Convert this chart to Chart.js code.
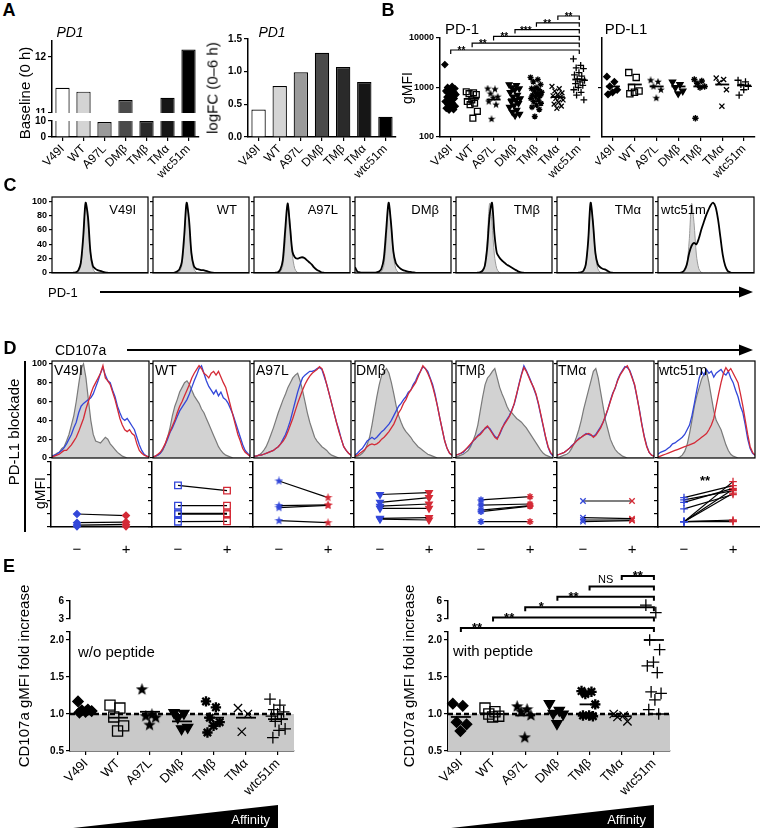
<!DOCTYPE html>
<html>
<head>
<meta charset="utf-8">
<script src="https://cdn.jsdelivr.net/npm/chart.js@4.4.0/dist/chart.umd.min.js"></script>
<style>
body { margin: 0; background: #fff; width: 763px; height: 837px; position: relative; overflow: hidden; font-family: "Liberation Sans", Arial, sans-serif; }
canvas { position: absolute; }
.t { position: absolute; white-space: nowrap; color: #000; line-height: 1; }
</style>
</head>
<body>
<svg width="763" height="837" style="position:absolute;left:0;top:0">
  <line x1="100" y1="292" x2="742" y2="292" stroke="#000" stroke-width="2"/>
  <polygon points="753,292 739,286.5 739,297.5" fill="#000"/>
  <line x1="127" y1="350" x2="742" y2="350" stroke="#000" stroke-width="2"/>
  <polygon points="753,350 739,344.5 739,355.5" fill="#000"/>
  <line x1="25" y1="361" x2="25" y2="532" stroke="#000" stroke-width="2"/>
</svg>
<script>
// ---- data ----
const groups = ['V49I', 'WT', 'A97L', 'DMβ', 'TMβ', 'TMα', 'wtc51m'];

// A: PD1 expression
const barColors = ['#ffffff', '#d4d4d4', '#9a9a9a', '#4a4a4a', '#2a2a2a', '#161616', '#000000'];
const baselinePD1 = [11.45, 11.38, 9.4, 11.23, 9.95, 11.27, 12.13];
const logFCPD1 = [0.42, 0.78, 0.99, 1.29, 1.07, 0.84, 0.31];
const baseUpperTicks = [11, 12];
const baseLowerTicks = [0, 10];
const logFCTicks = [0, 0.5, 1, 1.5];

// B: gMFI scatter
const pd1gMFI = [
  [2900, 1050, 1000, 950, 900, 850, 820, 780, 720, 680, 640, 600, 560, 520, 480, 450, 420, 400, 380, 360, 350],
  [820, 780, 750, 720, 560, 520, 480, 450, 330, 240],
  [950, 920, 750, 650, 620, 520, 450, 230],
  [1150, 1100, 1000, 950, 900, 800, 700, 650, 600, 560, 520, 480, 430, 400, 350, 320, 290, 270],
  [1600, 1450, 1300, 1150, 1000, 950, 900, 850, 800, 750, 700, 680, 650, 600, 560, 520, 480, 440, 400, 360, 260],
  [1050, 950, 850, 780, 720, 680, 640, 600, 560, 500, 460, 420, 380],
  [3800, 2800, 2500, 2400, 2000, 1800, 1700, 1500, 1400, 1300, 1200, 1100, 1000, 900, 800, 700, 560]
];
const pd1Mean = [790, 590, 570, 580, 690, 640, 1450];
const pdl1gMFI = [
  [1650, 1300, 1050, 900, 800, 730],
  [2000, 1600, 1000, 850, 800, 750],
  [1400, 1300, 1050, 900, 610],
  [1300, 1150, 1000, 850, 750],
  [1450, 1350, 1200, 1050, 1000, 240],
  [1550, 1450, 1250, 900, 420],
  [1400, 1300, 1150, 1050, 900, 700]
];
const pdl1Mean = [1050, 1150, 1050, 1050, 1050, 1150, 1100];
const gmfiTicks = [100, 1000, 10000];
const pd1Stars = ['**', '**', '**', '***', '**', '**'];

// C: PD-1 histograms
const histBins = [0, 2.5, 5, 7.5, 10, 12.5, 15, 17.5, 20, 22.5, 25, 27.5, 30, 32.5, 35, 37.5, 40, 42.5, 45, 47.5,
  50, 52.5, 55, 57.5, 60, 62.5, 65, 67.5, 70, 72.5, 75, 77.5, 80, 82.5, 85, 87.5, 90, 92.5, 95, 97.5, 100];
const histTicks = [0, 20, 40, 60, 80, 100];
const cControl = [0,0,0,0,0,0,0,0,0,0, 0.5,2,10,45,97,70,25,6,1,0, 0,0,0,0,0,0,0,0,0,0, 0,0,0,0,0,0,0,0,0,0, 0];
const cPD1 = [
  [0,0,0,0,0,0,0,0,0,0.5, 1,4,14,50,98,78,30,10,6,4, 3,2,1,0.5,0,0,0,0,0,0, 0,0,0,0,0,0,0,0,0,0, 0],
  [0,0,0,0,0,0,0,0,0,0.5, 2,5,15,52,98,75,28,10,6,5, 4,4,3,2,1,0.5,0,0,0,0, 0,0,0,0,0,0,0,0,0,0, 0],
  [0,0,0,0,0,0,0,0,0,0.5, 1,5,18,60,97,65,30,22,20,21, 22,21,18,15,12,8,5,3,1,0.5, 0,0,0,0,0,0,0,0,0,0, 0],
  [8,2,1,0.5,0.5,0.5,0.5,0.5,0.5,1, 2,6,20,60,98,70,30,14,9,6, 4,3,2,1.5,1,0.5,0,0,0,0, 0,0,0,0,0,0,0,0,0,0, 0],
  [0,0,0,0,0,0,0,0,0,0.5, 1,3,10,35,80,98,55,28,22,18, 15,12,10,8,6,4,2,1,0.5,0, 0,0,0,0,0,0,0,0,0,0, 0],
  [0,0,0,0,0,0,0,0,0,0.5, 1,3,12,45,98,70,28,12,8,6, 5,3,1,0.5,0,0,0,0,0,0, 0,0,0,0,0,0,0,0,0,0, 0],
  [0,0,0,0,0,0,0,0,0,0, 1,4,12,28,38,42,40,48,60,70, 80,88,95,98,92,75,50,25,10,3, 1,0,0,0,0,0,0,0,0,0, 0]
];

// D: CD107a histograms (control, anti-PD-L1 blue, isotype red)
const dControl = [
  [2,3,5,6,10,12,18,25,35,45, 60,78,95,100,85,62,40,25,18,17, 16,19,22,20,15,12,9,6,4,2, 1,0,0,0,0,0,0,0,0,0, 0],
  [1,2,3,5,8,14,22,32,45,55, 62,70,75,80,82,78,72,66,62,58, 52,48,42,36,30,24,18,12,8,5, 3,2,1,0,0,0,0,0,0,0, 0],
  [1,2,3,5,8,12,18,25,32,40, 48,55,62,68,75,80,85,88,90,82, 72,60,48,38,30,22,18,15,12,10, 8,5,3,2,1,0,0,0,0,0, 0],
  [1,2,3,5,8,14,22,35,50,65, 78,88,92,95,90,80,68,55,45,38, 32,28,25,22,18,15,12,10,8,6, 4,3,2,1,0,0,0,0,0,0, 0],
  [1,2,3,4,6,8,12,18,25,35, 50,65,78,85,88,92,95,85,75,68, 62,55,50,48,45,42,40,38,35,32, 28,24,20,16,12,8,5,3,2,1, 0],
  [1,1,2,3,4,6,10,15,22,30, 40,52,62,72,82,92,95,85,70,55, 40,30,20,14,9,6,4,2,1,0, 0,0,0,0,0,0,0,0,0,0, 0],
  [0,0,0,0,0,0,0,0,0,1, 3,7,14,26,40,55,66,75,84,89, 92,80,65,50,40,35,30,22,14,8, 4,2,1,0,0,0,0,0,0,0, 0]
];
const dBlue = [
  [2,3,4,6,8,11,15,20,25,32, 38,48,55,58,60,62,64,68,75,82, 90,96,88,82,80,72,65,55,48,42, 40,42,38,34,30,22,14,8,4,2, 1],
  [1,2,3,5,9,14,20,27,32,38, 44,50,54,58,62,68,75,82,88,95, 98,90,82,76,72,68,72,66,70,64, 62,58,52,46,38,30,22,14,8,5, 2],
  [2,2,3,3,4,5,6,7,8,10, 12,15,20,25,32,40,50,60,70,78, 85,88,90,92,92,93,95,96,94,86, 78,68,58,48,38,30,20,12,8,5, 3],
  [3,5,8,10,14,18,20,22,20,22, 25,28,30,33,36,40,45,50,55,58, 62,65,70,72,78,82,88,92,97,95, 92,85,78,68,55,42,30,18,10,5, 3],
  [3,4,5,6,9,11,14,18,20,24, 26,29,31,33,31,27,23,21,25,31, 37,41,45,51,57,67,79,89,98,93, 87,81,74,67,57,45,33,21,11,5, 2],
  [3,4,5,6,8,10,13,15,18,21, 22,24,26,25,24,23,25,29,33,38, 44,52,61,69,74,83,89,93,97,96, 93,86,77,64,51,36,23,13,6,3, 2],
  [4,6,7,8,10,12,15,16,18,20, 22,25,30,35,45,58,72,85,92,88, 94,90,92,86,90,92,94,90,88,92, 85,80,72,65,55,48,35,20,10,5, 3]
];
const dRed = [
  [1,2,3,4,6,8,8,11,14,18, 22,28,35,42,52,60,68,75,80,85, 90,98,85,82,78,70,62,52,42,35, 30,28,30,26,24,15,8,5,3,2, 1],
  [1,2,4,6,10,15,22,28,34,40, 48,55,60,66,72,78,85,90,94,98, 95,90,88,85,90,92,88,92,86,80, 75,65,55,45,35,25,18,10,6,4, 2],
  [2,2,3,3,4,5,6,7,8,10, 12,15,18,22,28,35,42,50,58,65, 72,78,83,87,90,92,94,97,95,88, 78,68,58,48,38,28,20,12,8,5, 3],
  [2,3,5,7,9,12,14,15,14,15, 17,20,22,25,28,32,36,42,48,52, 58,62,68,72,76,80,86,92,98,95, 90,84,76,66,55,42,30,18,10,5, 3],
  [3,4,5,7,9,12,15,18,21,23, 25,28,32,34,30,26,22,20,26,32, 36,40,44,50,58,68,78,88,96,92, 86,80,75,68,58,46,34,22,12,6, 3],
  [3,4,5,6,8,10,12,15,18,20, 22,24,25,26,25,22,24,28,32,38, 45,52,60,68,75,82,88,92,96,98, 92,85,78,65,50,35,22,12,6,3, 2],
  [1,2,3,4,5,6,7,8,9,10, 11,12,13,14,15,16,18,20,22,24, 26,30,35,42,55,68,80,90,96,92, 95,90,85,80,68,55,40,25,12,6, 3]
];

// D: paired gMFI without (-) and with (+) PD-L1 blockade
const dMinus = [
  [1.0, 0.33, 0.15, 0.05],
  [3.2, 1.64, 1.05, 0.98, 0.41],
  [3.54, 1.64, 1.49, 0.49],
  [2.5, 1.9, 1.6, 1.44, 0.67, 0.6],
  [2.08, 1.69, 1.3, 1.18, 0.41],
  [2.0, 0.72, 0.54, 0.41],
  [2.26, 2.08, 1.9, 1.39, 0.41, 0.41, 0.41, 0.41, 0.41, 0.41]
];
const dPlus = [
  [0.88, 0.38, 0.2, 0.05],
  [2.8, 1.64, 1.05, 0.98, 0.44],
  [2.26, 1.7, 1.66, 0.33],
  [2.64, 2.26, 1.77, 1.44, 0.72, 0.54],
  [2.33, 1.77, 1.64, 1.6, 0.41],
  [2.0, 0.64, 0.54, 0.49],
  [3.18, 2.8, 2.97, 2.5, 3.49, 2.9, 2.6, 0.54, 0.46, 0.41]
];
const dSides = ['−', '+'];
const dTicks = [0, 1, 2, 3, 4, 5];

// E: CD107a fold increase
const eNoPep = [
  [1.17, 1.06, 1.05, 1.04, 1.03, 1.02],
  [1.12, 1.08, 0.96, 0.84, 0.77],
  [1.33, 0.99, 0.97, 0.95, 0.85],
  [1.02, 1.01, 0.95, 0.82, 0.80],
  [1.17, 1.09, 0.95, 0.89, 0.84, 0.75],
  [1.08, 1.0, 0.76],
  [1.2, 1.12, 1.06, 1.03, 1.0, 0.97, 0.93, 0.9, 0.8, 0.78, 0.68]
];
const eNoPepMean = [1.05, 0.95, 1.03, 0.9, 0.95, 0.95, 0.93];
const ePep = [
  [1.14, 1.11, 0.89, 0.86, 0.77],
  [1.08, 1.03, 1.0, 0.97, 0.96],
  [1.1, 1.06, 1.03, 0.98, 0.68],
  [1.14, 1.05, 1.01, 1.0, 0.87],
  [1.31, 1.3, 1.27, 1.13, 0.98, 0.98, 0.97],
  [1.0, 0.98, 0.96, 0.9],
  [5.3, 4.05, 2.0, 1.87, 1.7, 1.65, 1.56, 1.3, 1.28, 1.19, 1.06, 1.0]
];
const ePepMean = [0.96, 1.0, 0.98, 1.01, 1.13, 0.97, 2.0];
const eTicks = [0.5, 1.0, 1.5, 2.0, 2.108];
const eTopTicks = [3, 6];
const eStars = ['**', '**', '*', '**', 'NS', '**'];

// ---- setup ----
const ink = '#000', blue = '#3347d9', red = '#d42a36';
const FONT = '"Liberation Sans", Arial, sans-serif';
Chart.defaults.font.family = FONT;
Chart.defaults.color = ink;
Chart.defaults.animation = false;
Chart.defaults.responsive = false;
Chart.defaults.maintainAspectRatio = false;
Chart.defaults.devicePixelRatio = 1;
Chart.defaults.events = [];
Chart.defaults.plugins.legend.display = false;
Chart.defaults.plugins.tooltip.enabled = false;

// canvas at rect [left, top, w, h], plot area at [l, t, r, b] (page pixels)
function place(rect, area, cfg, showX = true, showY = true) {
  const [L, T, W, H] = rect, [al, at, ar, ab] = area;
  const c = document.createElement('canvas');
  c.width = W; c.height = H;
  c.style.left = L + 'px'; c.style.top = T + 'px';
  document.body.appendChild(c);
  const yW = al - L, xH = T + H - ab;
  cfg.options.layout = {autoPadding: false, padding: {left: showY ? 0 : yW, top: at - T, right: L + W - ar, bottom: showX ? 0 : xH}};
  const s = cfg.options.scales;
  if (showY) s.y.afterFit = sc => { sc.width = yW; sc.paddingTop = 0; sc.paddingBottom = 0; };
  else s.y.display = false;
  if (showX) s.x.afterFit = sc => { sc.height = xH; sc.paddingLeft = 0; sc.paddingRight = 0; };
  else s.x.display = false;
  return new Chart(c, cfg);
}

function yScale(o) {
  return {
    type: o.type || 'linear', min: o.min, max: o.max,
    afterBuildTicks: s => { s.ticks = o.ticks.map(v => ({value: v})); },
    ticks: {autoSkip: false, display: o.labels !== false, callback: o.fmt || (v => String(v)),
      font: {size: o.size || 9, weight: 'bold'}, padding: 2, color: ink},
    grid: {drawOnChartArea: false, color: ink, tickLength: o.tick || 4, lineWidth: 1.2},
    border: {display: o.border !== false, color: ink, width: 1.5}
  };
}
function xGroups(min, max, size) {
  return {
    type: 'linear', min: min, max: max,
    afterBuildTicks: s => { s.ticks = groups.map((g, i) => ({value: i})); },
    ticks: {autoSkip: false, callback: v => groups[v], maxRotation: 45, minRotation: 45, font: {size: size}, padding: 1, color: ink},
    grid: {drawOnChartArea: false, color: ink, tickLength: 4, lineWidth: 1.2},
    border: {color: ink, width: 1.5}
  };
}
function xBars() {
  return {
    type: 'category',
    grid: {offset: false, drawOnChartArea: false, color: ink, tickLength: 4, lineWidth: 1.2},
    ticks: {autoSkip: false, maxRotation: 45, minRotation: 45, font: {size: 12}, padding: 1, color: ink},
    border: {color: ink, width: 1.5}
  };
}

function starImg(size, color) {
  const c = document.createElement('canvas');
  c.width = c.height = size;
  const g = c.getContext('2d');
  g.fillStyle = color;
  g.beginPath();
  for (let i = 0; i < 10; i++) {
    const r = (i % 2 ? 0.21 : 0.5) * size, a = -Math.PI / 2 + i * Math.PI / 5;
    g.lineTo(size / 2 + r * Math.cos(a), size / 2 + r * Math.sin(a));
  }
  g.closePath(); g.fill();
  return c;
}
const shapes = ['rectRot', 'rect', 'starFill', 'triangle', 'star', 'crossRot', 'cross'];
const radii = [4, 5.5, 4.5, 4.5, 4, 4.5, 4.5];
const filled = [true, false, true, true, false, false, false];
function marker(g, k, colors) {
  const cs = [].concat(colors);
  const one = a => a.length === 1 ? a[0] : a;
  return {
    pointStyle: one(cs.map(c => shapes[g] === 'starFill' ? starImg(Math.round(10 * k), c) : shapes[g])),
    pointRadius: radii[g] * k,
    pointBorderColor: one(cs),
    pointBackgroundColor: filled[g] ? one(cs) : 'rgba(0,0,0,0)',
    pointBorderWidth: g === 4 ? 1.8 * k : 1.3,
    pointRotation: g === 3 ? 180 : 0
  };
}
function jitter(vals, g, spread) {
  return vals.map((v, i) => ({x: g + (vals.length > 1 ? ((i * 0.618) % 1 - 0.5) * spread : 0), y: v}));
}
function groupSets(series, means, k, spread, lineR, keep) {
  const sets = series.map((vals, g) => Object.assign(
    {data: jitter(vals, g, spread).filter(p => keep(p.y)), clip: false}, marker(g, k, ink)));
  if (means) sets.push({data: means.map((v, g) => ({x: g, y: v})).filter(p => keep(p.y)),
    pointStyle: 'line', pointRadius: lineR, pointBorderWidth: 1.8, pointBorderColor: ink, clip: false});
  return sets;
}

function brackets(stars, y0, dy, lw, starFont) {
  return {
    id: 'brackets',
    afterDatasetsDraw(chart) {
      const {ctx, chartArea: a, scales: {x}} = chart;
      const xe = x.getPixelForValue(6);
      ctx.save();
      ctx.strokeStyle = ink; ctx.fillStyle = ink; ctx.lineWidth = lw;
      stars.forEach((s, k) => {
        const y = a.top + y0 - k * dy, xs = x.getPixelForValue(k);
        ctx.beginPath();
        ctx.moveTo(xs, y + 4); ctx.lineTo(xs, y); ctx.lineTo(xe, y); ctx.lineTo(xe, y + 4);
        ctx.stroke();
        ctx.textAlign = 'center';
        ctx.textBaseline = 'alphabetic';
        if (s === 'NS') { ctx.font = '11px ' + FONT; ctx.fillText(s, x.getPixelForValue(k + 0.5), y - 3); }
        else { ctx.font = starFont + FONT; ctx.fillText(s, x.getPixelForValue(k + 0.5), y + 4); }
      });
      ctx.restore();
    }
  };
}
const frame = {
  id: 'frame',
  afterDraw(c) {
    const a = c.chartArea, g = c.ctx;
    g.save(); g.strokeStyle = ink; g.lineWidth = 1.2;
    g.strokeRect(a.left, a.top, a.right - a.left, a.bottom - a.top);
    g.restore();
  }
};
const affinity = {
  id: 'affinity',
  afterDraw(c) {
    const g = c.ctx, a = c.chartArea, x = c.scales.x;
    const x0 = a.left + 3, x1 = x.getPixelForValue(6), yb = a.bottom + 77, yt = a.bottom + 54;
    g.save();
    g.fillStyle = ink;
    g.beginPath(); g.moveTo(x0, yb); g.lineTo(x1, yb); g.lineTo(x1, yt); g.closePath(); g.fill();
    g.fillStyle = '#fff'; g.font = '13px ' + FONT; g.textAlign = 'right'; g.textBaseline = 'middle';
    g.fillText('Affinity', x1 - 8, yb - 8);
    g.restore();
  }
};

// ---- A ----
function barSet(vals) {
  return [{data: vals, backgroundColor: barColors, borderColor: ink, borderWidth: 1.2,
    barPercentage: 0.68, categoryPercentage: 1, clip: 0}];
}
place([0, 20, 205, 93], [52, 41, 199, 113], {
  type: 'bar', data: {labels: groups, datasets: barSet(baselinePD1)},
  options: {scales: {x: xBars(), y: yScale({min: 11, max: 12.28, ticks: baseUpperTicks, size: 10})}}
}, false);
place([0, 110, 205, 70], [52, 121, 199, 137], {
  type: 'bar', data: {labels: groups, datasets: barSet(baselinePD1)},
  options: {scales: {x: xBars(), y: yScale({min: 0, max: 10, ticks: baseLowerTicks, size: 10})}}
});
place([200, 20, 200, 160], [248, 39, 396, 137], {
  type: 'bar', data: {labels: groups, datasets: barSet(logFCPD1)},
  options: {scales: {x: xBars(), y: yScale({min: 0, max: 1.5, ticks: logFCTicks, size: 10, fmt: v => v.toFixed(1)})}}
});

// ---- B ----
place([400, 0, 195, 180], [440, 38, 590, 137], {
  type: 'scatter', data: {datasets: groupSets(pd1gMFI, pd1Mean, 0.75, 0.55, 7, () => true)},
  options: {scales: {x: xGroups(-0.5, 6.5, 12),
    y: yScale({type: 'logarithmic', min: 100, max: 10000, ticks: gmfiTicks})}},
  plugins: [brackets(pd1Stars, 12, 6.8, 1.2, 'bold 10px ')]
});
place([595, 0, 165, 180], [602, 38, 755, 137], {
  type: 'scatter', data: {datasets: groupSets(pdl1gMFI, pdl1Mean, 0.8, 0.55, 7, () => true)},
  options: {scales: {x: xGroups(-0.5, 6.5, 12),
    y: yScale({type: 'logarithmic', min: 100, max: 10000, ticks: [1000], labels: false})}}
});

// ---- C and D histograms ----
function histScales(k, max) {
  const y = yScale({min: 0, max: max, ticks: histTicks, labels: k === 0, border: false, tick: 3});
  return {x: {type: 'category'}, y: y};
}
for (let k = 0; k < 7; k++) {
  const bl = Math.round(51.5 + 101 * k);
  place([bl - 24, 190, 124, 90], [bl, 197, bl + 96, 273], {
    type: 'line',
    data: {labels: histBins, datasets: [
      {data: cPD1[k], borderColor: ink, borderWidth: 1.8, pointRadius: 0, tension: 0.3, clip: 0},
      {data: cControl, borderColor: '#9a9a9a', borderWidth: 1, backgroundColor: '#d6d6d6', fill: 'origin', pointRadius: 0, tension: 0.3, clip: 0}
    ]},
    options: {scales: histScales(k, 106)},
    plugins: [frame]
  }, false);
  place([bl - 24, 355, 124, 106], [bl, 361, bl + 97, 458], {
    type: 'line',
    data: {labels: histBins, datasets: [
      {data: dRed[k], borderColor: red, borderWidth: 1.3, pointRadius: 0, clip: 0},
      {data: dBlue[k], borderColor: blue, borderWidth: 1.3, pointRadius: 0, clip: 0},
      {data: dControl[k], borderColor: '#7a7a7a', borderWidth: 1.2, backgroundColor: '#d2d2d2', fill: 'origin', pointRadius: 0, clip: 0}
    ]},
    options: {scales: histScales(k, 103)},
    plugins: [frame]
  }, false);
}

// ---- D paired gMFI ----
for (let k = 0; k < 7; k++) {
  const l = Math.round(50.5 + 101.2 * k);
  const m = marker(k, 0.85, [blue, red]);
  const sets = dMinus[k].map((v, i) => Object.assign({
    type: 'line', data: [{x: 0, y: v}, {x: 1, y: dPlus[k][i]}],
    borderColor: ink, borderWidth: 1.2, clip: false
  }, m));
  place([l - 6, 455, 109, 100], [l, 462, l + 101, 527], {
    type: 'scatter', data: {datasets: sets},
    options: {scales: {
      x: {type: 'linear', min: -0.53, max: 1.53,
        afterBuildTicks: s => { s.ticks = [{value: 0}, {value: 1}]; },
        ticks: {callback: v => dSides[v], font: {size: 15}, padding: 6, color: ink},
        grid: {display: false}, border: {color: ink, width: 1.5}},
      y: yScale({min: 0, max: 5, ticks: dTicks, labels: false})
    }}
  });
}

// ---- E ----
function bandSet(min, max) {
  return {type: 'line', showLine: true, data: [{x: min, y: 1}, {x: max, y: 1}], fill: 'start',
    backgroundColor: '#c9c9c9', borderColor: ink, borderWidth: 2.5, borderDash: [5, 3], pointRadius: 0, order: 10};
}
const eFmt = v => v > 2.05 ? '' : v.toFixed(1);
place([30, 560, 280, 277], [70, 632, 294, 751], {
  type: 'scatter',
  data: {datasets: [bandSet(-0.5, 6.5)].concat(groupSets(eNoPep, eNoPepMean, 1.3, 0.5, 10, v => v < 2.2))},
  options: {scales: {x: xGroups(-0.5, 6.5, 13), y: yScale({min: 0.5, max: 2.108, ticks: eTicks, size: 10, fmt: eFmt})}},
  plugins: [affinity]
});
place([30, 592, 280, 31], [70, 601, 294, 619], {
  type: 'scatter', data: {datasets: groupSets(eNoPep, null, 1.3, 0.5, 10, v => v >= 3)},
  options: {scales: {x: xGroups(-0.5, 6.5, 13), y: yScale({min: 3, max: 6, ticks: eTopTicks, size: 10})}}
}, false);
place([405, 555, 280, 282], [448, 632, 670, 751], {
  type: 'scatter',
  data: {datasets: [bandSet(-0.4, 6.5)].concat(groupSets(ePep, ePepMean, 1.3, 0.5, 10, v => v < 2.2))},
  options: {scales: {x: xGroups(-0.4, 6.5, 13), y: yScale({min: 0.5, max: 2.108, ticks: eTicks, size: 10, fmt: eFmt})}},
  plugins: [affinity, brackets(eStars, -4, 10.4, 2, 'bold 13px ')]
});
place([405, 592, 280, 31], [448, 601, 670, 619], {
  type: 'scatter', data: {datasets: groupSets(ePep, null, 1.3, 0.5, 10, v => v >= 3)},
  options: {scales: {x: xGroups(-0.4, 6.5, 13), y: yScale({min: 3, max: 6, ticks: eTopTicks, size: 10})}}
}, false);

// ---- free text ----
function txt(s, x, y, css, anchor) {
  const d = document.createElement('div');
  d.className = 't';
  d.textContent = s;
  d.style.cssText = 'left:' + x + 'px;top:' + y + 'px;' + (css || '');
  d.style.transform = {c: 'translate(-50%,-50%)', l: 'translate(0,-50%)', r: 'translate(-100%,-50%)',
    v: 'translate(-50%,-50%) rotate(-90deg)'}[anchor || 'c'];
  document.body.appendChild(d);
}
const big = 'font-weight:bold;font-size:18px;';
txt('A', 9, 10, big);
txt('PD1', 70, 32, 'font-style:italic;font-size:14px;');
txt('PD1', 272, 32, 'font-style:italic;font-size:14px;');
txt('Baseline (0 h)', 24, 93, 'font-size:15px;', 'v');
txt('logFC (0–6 h)', 212, 88, 'font-size:15px;', 'v');
txt('B', 388, 10, big);
txt('PD-1', 462, 28, 'font-size:15px;');
txt('PD-L1', 626, 28, 'font-size:15px;');
txt('gMFI', 407, 88, 'font-size:14px;', 'v');
txt('C', 10, 185, big);
txt('PD-1', 48, 292, 'font-size:13px;', 'l');
txt('D', 10, 348, big);
txt('CD107a', 55, 350, 'font-size:14px;', 'l');
txt('PD-L1 blockade', 13, 432, 'font-size:15px;', 'v');
txt('gMFI', 40, 493, 'font-size:14px;', 'v');
txt('**', 705, 480, 'font-size:13px;font-weight:bold;');
for (let k = 0; k < 7; k++) {
  const bl = Math.round(51.5 + 101 * k);
  if (k < 6) txt(groups[k], bl + 84, 209, 'font-size:13px;', 'r');
  else txt(groups[k], bl + 3, 209, 'font-size:13px;', 'l');
  txt(groups[k], Math.round(51 + 100.8 * k) + 3, 370, 'font-size:14px;', 'l');
}
txt('E', 9, 566, big);
txt('CD107a gMFI fold increase', 23, 676, 'font-size:15px;', 'v');
txt('CD107a gMFI fold increase', 408, 676, 'font-size:15px;', 'v');
txt('w/o peptide', 78, 651, 'font-size:15px;', 'l');
txt('with peptide', 453, 650, 'font-size:15px;', 'l');
</script>
</body>
</html>
